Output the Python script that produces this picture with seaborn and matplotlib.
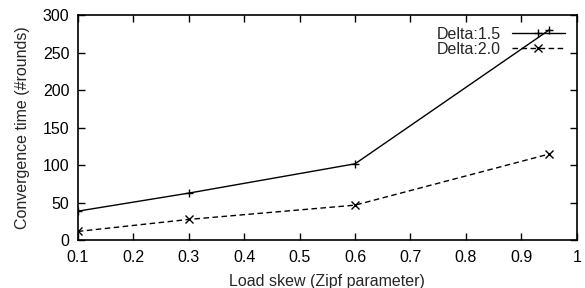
import matplotlib
matplotlib.use("Agg")
import matplotlib.pyplot as plt
import seaborn as sns
import pandas as pd

skew = [0.1, 0.3, 0.6, 0.95]
delta_15 = [39, 63, 102, 280]
delta_20 = [12, 28, 47, 115]
series_names = ["Delta:1.5", "Delta:2.0"]

df = pd.DataFrame({
    "skew": skew * 2,
    "time": delta_15 + delta_20,
    "series": [series_names[0]] * len(skew) + [series_names[1]] * len(skew),
})

sns.set_theme(style="ticks")
plt.rcParams["font.family"] = ["Liberation Sans", "DejaVu Sans"]

FS = 11.5
fig = plt.figure(figsize=(5.85, 2.88), dpi=100)
ax = fig.add_axes([0.133, 0.165, 0.853, 0.783])

sns.lineplot(data=df, x="skew", y="time", hue="series", style="series",
             palette={series_names[0]: "black", series_names[1]: "black"},
             dashes={series_names[0]: "", series_names[1]: (4, 2.5)},
             markers={series_names[0]: "+", series_names[1]: "x"},
             markersize=6, markeredgewidth=1.0, markeredgecolor="black",
             linewidth=1.0, ax=ax)

ax.set_xlim(0.1, 1.0)
ax.set_ylim(0, 300)
ax.set_xticks([0.1, 0.2, 0.3, 0.4, 0.5, 0.6, 0.7, 0.8, 0.9, 1.0])
ax.set_xticklabels(["0.1", "0.2", "0.3", "0.4", "0.5", "0.6", "0.7", "0.8", "0.9", "1"])
ax.set_yticks([0, 50, 100, 150, 200, 250, 300])
ax.tick_params(direction="in", top=True, right=True, length=5, width=1,
               labelsize=FS, colors="black")
ax.tick_params(axis="x", pad=7)
ax.tick_params(axis="y", pad=6)
for s in ax.spines.values():
    s.set_visible(True)
    s.set_linewidth(1.2)
    s.set_color("black")
ax.set_xlabel("Load skew (Zipf parameter)", fontsize=FS, labelpad=6)
ax.set_ylabel("Convergence time (#rounds)", fontsize=FS, labelpad=9)

leg = ax.legend(loc="upper right", frameon=False, markerfirst=False,
                fontsize=FS, handlelength=3.3, handletextpad=0.7,
                borderaxespad=0.55, labelspacing=0.0, borderpad=0.2)
for h in leg.legend_handles:
    h.set_markeredgecolor("black")

fig.savefig("out.png", dpi=100)
